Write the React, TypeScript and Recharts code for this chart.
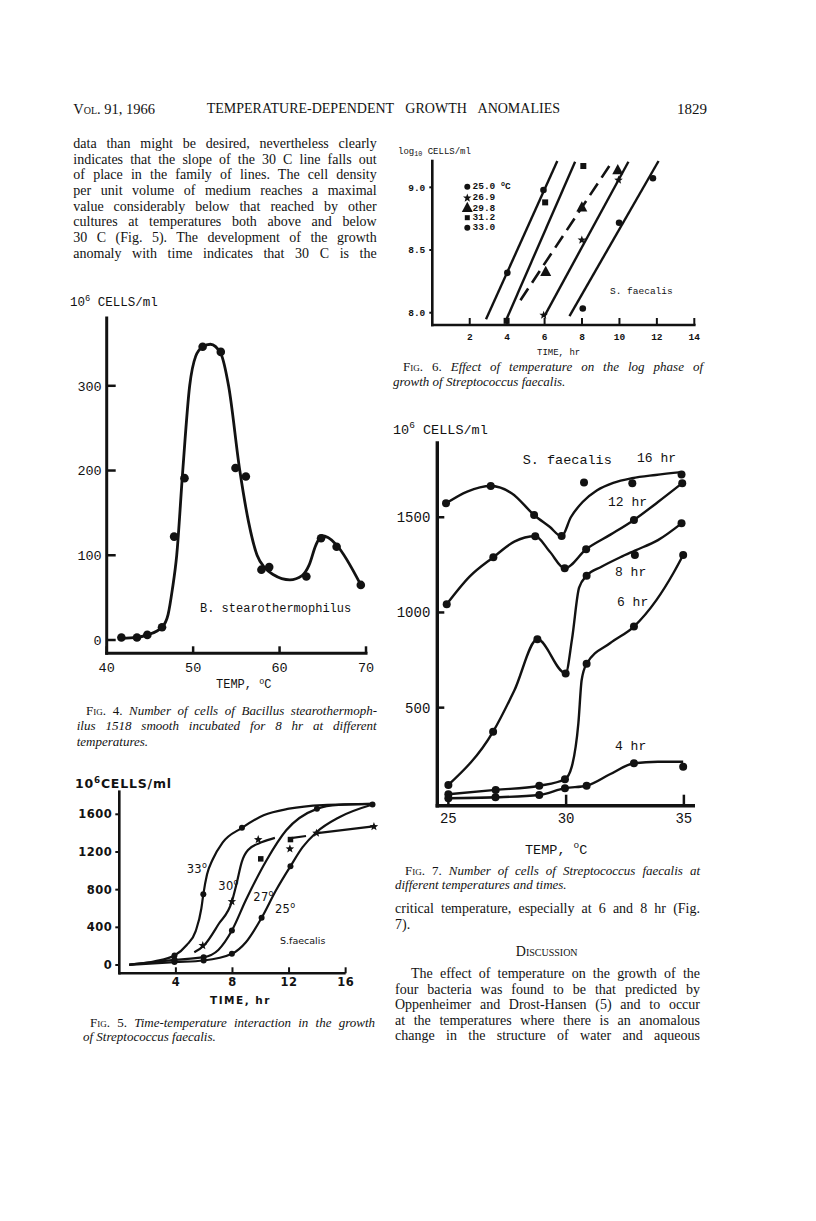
import React from 'react';
import { ComposedChart, Line, Scatter, XAxis, YAxis, ReferenceLine } from 'recharts';

const PAGE_W = 816;
const PAGE_H = 1221;
const INK = '#121212';
const SERIF = '"Liberation Serif", "Times New Roman", serif';
const MONO = '"Liberation Mono", "DejaVu Sans Mono", monospace';
const SANS = '"DejaVu Sans", "Liberation Sans", sans-serif';

// ---------------- Fig. 4 : B. stearothermophilus ----------------
const fig4PointTemp = [41.7, 43.5, 44.7, 46.4, 47.8, 49.0, 51.1, 53.2, 54.9, 56.1, 57.9, 58.8, 63.1, 64.8, 66.6, 69.4];
const fig4PointCells = [3, 3, 6, 15, 122, 191, 346, 340, 203, 193, 83, 86, 75, 120, 110, 65];
const fig4CurveTemp = [41.7, 43.5, 44.7, 46.4, 47.1, 47.6, 48.1, 48.8, 49.6, 50.3, 51.1, 52.0, 53.2, 54.1, 55.4, 56.4, 57.4, 58.3, 59.3, 61.2, 62.6, 63.4, 64.2, 64.9, 65.6, 66.6, 69.4];
const fig4CurveCells = [2, 3, 6, 15, 30, 60, 100, 200, 300, 335, 346, 349, 338, 300, 200, 140, 100, 85, 77, 71, 76, 88, 112, 123, 121, 112, 65];
const fig4XTicks = [40, 50, 60, 70];
const fig4YTicks = [0, 100, 200, 300];
const fig4XDomain = [40, 70];
const fig4YDomain = [-15.7, 380];

// ---------------- Fig. 5 : time-temperature ----------------
const fig5T33 = [0.7, 2.5, 3.9, 4.75, 5.4, 5.8, 5.94, 6.2, 6.6, 7.3, 8.67, 10.2, 12.0, 14.4, 17.9];
const fig5V33 = [5, 40, 101, 210, 360, 600, 750, 960, 1120, 1300, 1456, 1590, 1660, 1698, 1711];
const fig5T30 = [5.3, 6.0, 7.0, 7.96, 8.3, 8.65, 9.1, 10.1, 11.0];
const fig5V30 = [135, 210, 430, 675, 870, 1090, 1220, 1305, 1350];
const fig5T27 = [0.7, 3.9, 5.96, 7.0, 7.96, 8.95, 10.4, 11.8, 13.97, 15.5, 17.9];
const fig5V27 = [5, 55, 83, 160, 366, 690, 1110, 1430, 1658, 1700, 1711];
const fig5T25 = [0.7, 3.9, 5.96, 7.96, 8.95, 10.06, 11.07, 12.1, 12.96, 13.94, 15.55, 17.9];
const fig5V25 = [0, 31, 48, 119, 242, 501, 791, 1049, 1251, 1410, 1569, 1704];
const fig5PlateauT = [12.0, 13.2, 13.6, 14.0, 18.1];
const fig5PlateauV = [1345, 1370, null, 1400, 1475];
const fig5DotT = [3.9, 5.94, 8.67, 3.9, 5.96, 7.96, 13.97, 3.9, 5.96, 7.96, 10.06, 12.1, 17.9];
const fig5DotV = [101, 750, 1456, 55, 83, 366, 1658, 31, 48, 119, 501, 1049, 1704];
const fig5StarT = [5.9, 7.96, 9.82, 12.06, 13.94, 18.0];
const fig5StarV = [207, 674, 1332, 1233, 1400, 1470];
const fig5SquareT = [10.0, 12.1];
const fig5SquareV = [1127, 1332];
const fig5XTicks = [4, 8, 12, 16];
const fig5YTicks = [0, 400, 800, 1200, 1600];
const fig5XDomain = [0, 18.5];
const fig5YDomain = [-88, 1840];

// ---------------- Fig. 6 : log phase ----------------
const fig6Line33T = [2.87, 6.68];
const fig6Line33V = [7.947, 9.21];
const fig6Line31T = [3.94, 7.63];
const fig6Line31V = [7.94, 9.204];
const fig6Line29T = [4.71, 9.5];
const fig6Line29V = [8.1, 9.18];
const fig6Line26T = [5.97, 10.48];
const fig6Line26V = [7.967, 9.204];
const fig6Line25T = [7.33, 12.09];
const fig6Line25V = [7.973, 9.21];
const fig6Pts33T = [4.01, 5.94];
const fig6Pts33V = [8.318, 8.979];
const fig6Pts31T = [3.97, 6.03, 8.07];
const fig6Pts31V = [7.935, 8.88, 9.17];
const fig6Pts29T = [6.06, 7.99, 9.91];
const fig6Pts29V = [8.326, 8.84, 9.138];
const fig6Pts26T = [5.95, 7.99, 9.95];
const fig6Pts26V = [7.98, 8.58, 9.058];
const fig6Pts25T = [8.04, 9.98, 11.79];
const fig6Pts25V = [8.034, 8.718, 9.072];
const fig6XTicks = [2, 4, 6, 8, 10, 12, 14];
const fig6YTicks = [8.0, 8.5, 9.0];
const fig6XDomain = [0, 14];
const fig6YDomain = [7.902, 9.21];
const fig6LegendLabels = ['25.0', '26.9', '29.8', '31.2', '33.0'];

// ---------------- Fig. 7 : cells vs temperature ----------------
const fig7C16T = [24.9, 25.8, 26.8, 27.7, 28.64, 29.3, 29.81, 30.2, 30.7, 31.3, 32.0, 32.8, 33.8, 34.9];
const fig7C16V = [1573, 1635, 1664, 1625, 1512, 1450, 1400, 1500, 1580, 1640, 1680, 1705, 1722, 1737];
const fig7P16T = [24.9, 26.8, 28.64, 29.81, 30.76, 32.81, 34.9];
const fig7P16V = [1573, 1664, 1512, 1402, 1682, 1678, 1724];
const fig7C12T = [24.93, 25.9, 26.91, 27.8, 28.69, 29.3, 29.94, 30.85, 31.9, 32.88, 33.9, 34.93];
const fig7C12V = [1043, 1188, 1290, 1372, 1400, 1320, 1232, 1332, 1410, 1486, 1580, 1679];
const fig7P12T = [24.93, 26.91, 28.69, 29.94, 30.85, 32.88, 34.93];
const fig7P12V = [1043, 1290, 1400, 1232, 1332, 1486, 1679];
const fig7C8T = [25.0, 26.9, 27.8, 28.78, 29.98, 30.25, 30.55, 30.87, 31.5, 32.3, 32.92, 33.9, 34.9];
const fig7C8V = [94, 374, 590, 859, 680, 860, 1130, 1193, 1240, 1290, 1325, 1380, 1468];
const fig7P8T = [25.0, 26.9, 28.78, 29.98, 30.87, 32.92, 34.9];
const fig7P8V = [94, 374, 859, 680, 1193, 1302, 1468];
const fig7C6T = [25.0, 27.01, 28.86, 29.95, 30.24, 30.52, 30.66, 30.87, 31.86, 32.88, 33.84, 34.55, 34.97];
const fig7C6V = [45, 68, 90, 124, 190, 418, 645, 730, 838, 926, 1066, 1206, 1302];
const fig7P6T = [25.0, 27.01, 28.86, 29.95, 30.87, 32.88, 34.97];
const fig7P6V = [45, 68, 90, 124, 730, 926, 1302];
const fig7C4T = [25.0, 27.0, 28.86, 29.95, 30.87, 31.86, 32.88, 33.9, 34.97];
const fig7C4V = [24, 29, 41, 77, 90, 150, 208, 216, 216];
const fig7P4T = [25.0, 27.0, 28.86, 29.95, 30.87, 32.88, 34.97];
const fig7P4V = [24, 29, 41, 77, 90, 208, 190];
const fig7XTicks = [25, 30, 35];
const fig7YTicks = [500, 1000, 1500];
const fig7XDomain = [24.53, 35.4];
const fig7YDomain = [-15, 1890];

// ---------------- helpers ----------------
const zip = (xs: number[], ys: (number | null)[]) => xs.map((x, i) => ({ x, y: ys[i] }));

type Box = { x0: number; x1: number; y0: number; y1: number };
const marginFor = (b: Box) => ({ left: b.x0 - 1, right: PAGE_W - b.x1, top: b.y0, bottom: PAGE_H - b.y1 - 1 });

type TickSpec = {
  len: number; inward: boolean; gap: number; size: number; font: string;
  weight?: number | string; ls?: number; sw: number; fmt?: (v: number) => string;
};

const yTick = (s: TickSpec) => (p: any) => {
  const { x, y, payload } = p;
  const v = payload.value as number;
  const x2 = s.inward ? x + s.len : x - s.len;
  const tx = x - (s.inward ? 0 : s.len) - s.gap;
  return (
    <g>
      <line x1={x} y1={y} x2={x2} y2={y} stroke={INK} strokeWidth={s.sw} />
      <text x={tx} y={y + s.size * 0.36} textAnchor="end" fontFamily={s.font} fontSize={s.size}
        fontWeight={s.weight} letterSpacing={s.ls} fill={INK}>{s.fmt ? s.fmt(v) : v}</text>
    </g>
  );
};

const xTick = (s: TickSpec) => (p: any) => {
  const { x, y, payload } = p;
  const v = payload.value as number;
  const y2 = s.inward ? y - s.len : y + s.len;
  return (
    <g>
      <line x1={x} y1={y} x2={x} y2={y2} stroke={INK} strokeWidth={s.sw} />
      <text x={x} y={y + s.gap + s.size * 0.36} textAnchor="middle" fontFamily={s.font} fontSize={s.size}
        fontWeight={s.weight} letterSpacing={s.ls} fill={INK}>{s.fmt ? s.fmt(v) : v}</text>
    </g>
  );
};

const dotShape = (r: number) => (p: any) => <circle cx={p.cx} cy={p.cy} r={r} fill={INK} />;
const squareShape = (s: number) => (p: any) => (
  <rect x={p.cx - s / 2} y={p.cy - s / 2} width={s} height={s} fill={INK} />
);
const triPoints = (cx: number, cy: number, s: number) =>
  `${cx},${cy - s * 0.55} ${cx - s / 2},${cy + s * 0.38} ${cx + s / 2},${cy + s * 0.38}`;
const triShape = (s: number) => (p: any) => <polygon points={triPoints(p.cx, p.cy, s)} fill={INK} />;
const starPoints = (cx: number, cy: number, R: number) => {
  const pts: string[] = [];
  for (let i = 0; i < 10; i++) {
    const rr = i % 2 === 0 ? R : R * 0.42;
    const a = -Math.PI / 2 + (i * Math.PI) / 5;
    pts.push(`${cx + rr * Math.cos(a)},${cy + rr * Math.sin(a)}`);
  }
  return pts.join(' ');
};
const starShape = (R: number) => (p: any) => <polygon points={starPoints(p.cx, p.cy, R)} fill={INK} />;

const layer: React.CSSProperties = { position: 'absolute', left: 0, top: 0, width: PAGE_W, height: PAGE_H };

const lineCommon = { dot: false, activeDot: false, isAnimationActive: false, stroke: INK } as const;

// ---------------- text helper ----------------
type TProps = {
  x: number; cy: number; w?: number; size: number; font?: string; justify?: boolean;
  italic?: boolean; weight?: number | string; ls?: number; center?: boolean; k?: number;
  sc?: boolean; children: React.ReactNode;
};
function T({ x, cy, w, size, font = SERIF, justify, italic, weight, ls, center, k = 0.64, sc, children }: TProps) {
  const st: React.CSSProperties = {
    position: 'absolute', top: cy - size * k, fontSize: size, lineHeight: `${size * 1.2}px`,
    fontFamily: font, whiteSpace: 'nowrap', color: INK, fontStyle: italic ? 'italic' : 'normal',
    fontWeight: weight ?? 'normal', letterSpacing: ls, fontVariant: sc ? 'small-caps' : 'normal',
  };
  if (justify) {
    st.left = x; st.width = w; st.textAlign = 'justify'; st.textAlignLast = 'justify';
  } else if (center) {
    st.left = x - 200; st.width = 400; st.textAlign = 'center';
  } else {
    st.left = x;
  }
  return <div style={st}>{children}</div>;
}
const Sup = ({ children }: { children: React.ReactNode }) => (
  <span style={{ fontSize: '0.7em', position: 'relative', top: '-0.55em' }}>{children}</span>
);
const Sub = ({ children }: { children: React.ReactNode }) => (
  <span style={{ fontSize: '0.75em', position: 'relative', top: '0.35em' }}>{children}</span>
);
const Fig = ({ n }: { n: number }) => (
  <span style={{ fontStyle: 'normal', fontVariant: 'small-caps' }}>Fig. {n}. </span>
);

// ---------------- charts ----------------
function Fig4() {
  const box: Box = { x0: 106.7, x1: 366, y0: 318, y1: 653.3 };
  const yt: TickSpec = { len: 9, inward: true, gap: 5, size: 13.5, font: MONO, sw: 2.5 };
  const xt: TickSpec = { len: 7, inward: true, gap: 13.4, size: 13.5, font: MONO, sw: 2.5 };
  return (
    <div style={layer}>
      <ComposedChart width={PAGE_W} height={PAGE_H} margin={marginFor(box)}>
        <XAxis type="number" dataKey="x" domain={fig4XDomain} ticks={fig4XTicks} interval={0} height={1}
          tickSize={0} tickMargin={0} tickLine={false} tick={xTick(xt)}
          axisLine={{ stroke: INK, strokeWidth: 3, strokeLinecap: 'square' }} />
        <YAxis type="number" dataKey="y" domain={fig4YDomain} ticks={fig4YTicks} interval={0} width={1}
          tickSize={0} tickMargin={0} tickLine={false} tick={yTick(yt)}
          axisLine={{ stroke: INK, strokeWidth: 3, strokeLinecap: 'square' }} />
        <Line data={zip(fig4CurveTemp, fig4CurveCells)} dataKey="y" type="monotone" strokeWidth={2.8} {...lineCommon} />
        <Scatter data={zip(fig4PointTemp, fig4PointCells)} shape={dotShape(4.3)} isAnimationActive={false} />
      </ComposedChart>
    </div>
  );
}

function Fig5() {
  const box: Box = { x0: 119.3, x1: 381, y0: 791.7, y1: 973.3 };
  const yt: TickSpec = { len: 4, inward: false, gap: 3, size: 11.5, font: SANS, weight: 'bold', ls: 0.5, sw: 2 };
  const xt: TickSpec = { len: 6, inward: true, gap: 9, size: 11.5, font: SANS, weight: 'bold', ls: 0.5, sw: 2 };
  return (
    <div style={layer}>
      <ComposedChart width={PAGE_W} height={PAGE_H} margin={marginFor(box)}>
        <XAxis type="number" dataKey="x" domain={fig5XDomain} ticks={fig5XTicks} interval={0} height={1}
          tickSize={0} tickMargin={0} tickLine={false} tick={xTick(xt)} axisLine={false} />
        <YAxis type="number" dataKey="y" domain={fig5YDomain} ticks={fig5YTicks} interval={0} width={1}
          tickSize={0} tickMargin={0} tickLine={false} tick={yTick(yt)}
          axisLine={{ stroke: INK, strokeWidth: 2.6, strokeLinecap: 'square' }} />
        <ReferenceLine segment={[{ x: fig5XDomain[0], y: fig5YDomain[0] }, { x: fig5XTicks[fig5XTicks.length - 1], y: fig5YDomain[0] }]}
          stroke={INK} strokeWidth={2.6} ifOverflow="visible" />
        <Line data={zip(fig5T33, fig5V33)} dataKey="y" type="monotone" strokeWidth={2.2} {...lineCommon} />
        <Line data={zip(fig5T30, fig5V30)} dataKey="y" type="monotone" strokeWidth={2.2} {...lineCommon} />
        <Line data={zip(fig5T27, fig5V27)} dataKey="y" type="monotone" strokeWidth={2.2} {...lineCommon} />
        <Line data={zip(fig5T25, fig5V25)} dataKey="y" type="monotone" strokeWidth={2.2} {...lineCommon} />
        <Line data={zip(fig5PlateauT, fig5PlateauV)} dataKey="y" type="linear" strokeWidth={2.2} connectNulls={false} {...lineCommon} />
        <Scatter data={zip(fig5DotT, fig5DotV)} shape={dotShape(3)} isAnimationActive={false} />
        <Scatter data={zip(fig5StarT, fig5StarV)} shape={starShape(4.5)} isAnimationActive={false} />
        <Scatter data={zip(fig5SquareT, fig5SquareV)} shape={squareShape(5.5)} isAnimationActive={false} />
      </ComposedChart>
    </div>
  );
}

function Fig6() {
  const box: Box = { x0: 432.3, x1: 694.3, y0: 161, y1: 325 };
  const yt: TickSpec = { len: 3, inward: false, gap: 4, size: 9.5, font: MONO, weight: 'bold', sw: 2, fmt: (v) => v.toFixed(1) };
  const xt: TickSpec = { len: 7, inward: true, gap: 11.7, size: 9.5, font: MONO, weight: 'bold', sw: 2 };
  return (
    <div style={layer}>
      <ComposedChart width={PAGE_W} height={PAGE_H} margin={marginFor(box)}>
        <XAxis type="number" dataKey="x" domain={fig6XDomain} ticks={fig6XTicks} interval={0} height={1}
          tickSize={0} tickMargin={0} tickLine={false} tick={xTick(xt)}
          axisLine={{ stroke: INK, strokeWidth: 2.6, strokeLinecap: 'square' }} />
        <YAxis type="number" dataKey="y" domain={fig6YDomain} ticks={fig6YTicks} interval={0} width={1}
          tickSize={0} tickMargin={0} tickLine={false} tick={yTick(yt)}
          axisLine={{ stroke: INK, strokeWidth: 2.6, strokeLinecap: 'square' }} />
        <Line data={zip(fig6Line33T, fig6Line33V)} dataKey="y" type="linear" strokeWidth={2.4} {...lineCommon} />
        <Line data={zip(fig6Line31T, fig6Line31V)} dataKey="y" type="linear" strokeWidth={2.4} {...lineCommon} />
        <Line data={zip(fig6Line29T, fig6Line29V)} dataKey="y" type="linear" strokeWidth={2.6} strokeDasharray="14 7" {...lineCommon} />
        <Line data={zip(fig6Line26T, fig6Line26V)} dataKey="y" type="linear" strokeWidth={2.4} {...lineCommon} />
        <Line data={zip(fig6Line25T, fig6Line25V)} dataKey="y" type="linear" strokeWidth={2.4} {...lineCommon} />
        <Scatter data={zip(fig6Pts33T, fig6Pts33V)} shape={dotShape(3.3)} isAnimationActive={false} />
        <Scatter data={zip(fig6Pts31T, fig6Pts31V)} shape={squareShape(6)} isAnimationActive={false} />
        <Scatter data={zip(fig6Pts29T, fig6Pts29V)} shape={triShape(11)} isAnimationActive={false} />
        <Scatter data={zip(fig6Pts26T, fig6Pts26V)} shape={starShape(4.5)} isAnimationActive={false} />
        <Scatter data={zip(fig6Pts25T, fig6Pts25V)} shape={dotShape(3.3)} isAnimationActive={false} />
      </ComposedChart>
    </div>
  );
}

function Fig7() {
  const box: Box = { x0: 437.3, x1: 693.3, y0: 443, y1: 805.7 };
  const yt: TickSpec = { len: 7, inward: true, gap: 7, size: 14, font: MONO, sw: 2.5 };
  const xt: TickSpec = { len: 11, inward: true, gap: 12.3, size: 14, font: MONO, sw: 2.5 };
  const series: [number[], number[], number[], number[]][] = [
    [fig7C16T, fig7C16V, fig7P16T, fig7P16V],
    [fig7C12T, fig7C12V, fig7P12T, fig7P12V],
    [fig7C8T, fig7C8V, fig7P8T, fig7P8V],
    [fig7C6T, fig7C6V, fig7P6T, fig7P6V],
    [fig7C4T, fig7C4V, fig7P4T, fig7P4V],
  ];
  return (
    <div style={layer}>
      <ComposedChart width={PAGE_W} height={PAGE_H} margin={marginFor(box)}>
        <XAxis type="number" dataKey="x" domain={fig7XDomain} ticks={fig7XTicks} interval={0} height={1}
          tickSize={0} tickMargin={0} tickLine={false} tick={xTick(xt)}
          axisLine={{ stroke: INK, strokeWidth: 3.4, strokeLinecap: 'square' }} />
        <YAxis type="number" dataKey="y" domain={fig7YDomain} ticks={fig7YTicks} interval={0} width={1}
          tickSize={0} tickMargin={0} tickLine={false} tick={yTick(yt)}
          axisLine={{ stroke: INK, strokeWidth: 3.4, strokeLinecap: 'square' }} />
        {series.map((s, i) => (
          <Line key={`l${i}`} data={zip(s[0], s[1])} dataKey="y" type="monotone" strokeWidth={2.4} {...lineCommon} />
        ))}
        {series.map((s, i) => (
          <Scatter key={`p${i}`} data={zip(s[2], s[3])} shape={dotShape(4)} isAnimationActive={false} />
        ))}
      </ComposedChart>
    </div>
  );
}

function Fig6Legend() {
  const rows = [186.7, 198.0, 208.3, 217.7, 227.7];
  const mx = 467.3;
  const shapes = [
    <circle key="a" cx={mx} cy={rows[0]} r={3} fill={INK} />,
    <polygon key="b" points={starPoints(mx, rows[1], 4.5)} fill={INK} />,
    <polygon key="c" points={triPoints(mx, rows[2] - 0.5, 11)} fill={INK} />,
    <rect key="d" x={mx - 2.5} y={rows[3] - 2.5} width={5} height={5} fill={INK} />,
    <circle key="e" cx={mx} cy={rows[4]} r={3} fill={INK} />,
  ];
  return (
    <>
      <svg width={PAGE_W} height={PAGE_H} style={{ ...layer, pointerEvents: 'none' }}>{shapes}</svg>
      {fig6LegendLabels.map((lab, i) => (
        <T key={lab} x={472.5} cy={rows[i]} size={9.5} font={MONO} weight="bold" k={0.58}>
          {lab}{i === 0 ? <> <Sup>o</Sup>C</> : null}
        </T>
      ))}
    </>
  );
}

const leftPara = [
  'data than might be desired, nevertheless clearly',
  'indicates that the slope of the 30 C line falls out',
  'of place in the family of lines. The cell density',
  'per unit volume of medium reaches a maximal',
  'value considerably below that reached by other',
  'cultures at temperatures both above and below',
  '30 C (Fig. 5). The development of the growth',
  'anomaly with time indicates that 30 C is the',
];
const rightPara = [
  'four bacteria was found to be that predicted by',
  'Oppenheimer and Drost-Hansen (5) and to occur',
  'at the temperatures where there is an anomalous',
  'change in the structure of water and aqueous',
];

function PageText() {
  return (
    <>
      {/* running head */}
      <T x={73.3} cy={110} size={14.5} sc>Vol. 91, 1966</T>
      <T x={206.7} cy={110} w={353.3} size={14} justify>TEMPERATURE-DEPENDENT GROWTH ANOMALIES</T>
      <T x={677} cy={110} size={15}>1829</T>

      {/* left column paragraph */}
      {leftPara.map((l, i) => (
        <T key={i} x={73.3} cy={145 + 15.65 * i} w={303.4} size={14} justify>{l}</T>
      ))}

      {/* Fig 4 labels */}
      <T x={70} cy={303} size={12.5} font={MONO} k={0.55}>10<Sup>6</Sup> CELLS/ml</T>
      <T x={200} cy={609} size={12} font={MONO} k={0.55}>B. stearothermophilus</T>
      <T x={216} cy={685} size={12} font={MONO} k={0.55}>TEMP, <Sup>o</Sup>C</T>

      {/* Fig 4 caption */}
      <T x={86} cy={711} w={291} size={13} italic justify><Fig n={4} />Number of cells of Bacillus stearothermoph-</T>
      <T x={76.7} cy={726.6} w={300} size={13} italic justify>ilus 1518 smooth incubated for 8 hr at different</T>
      <T x={76.7} cy={742} size={13} italic>temperatures.</T>

      {/* Fig 5 labels */}
      <T x={75} cy={783} size={12.5} font={SANS} weight="bold" ls={0.8} k={0.55}>10<Sup>6</Sup>CELLS/ml</T>
      <T x={186.7} cy={869} size={11.5} font={SANS} ls={0.3} k={0.55}>33<Sup>o</Sup></T>
      <T x={218.3} cy={886} size={11.5} font={SANS} ls={0.3} k={0.55}>30<Sup>o</Sup></T>
      <T x={253.3} cy={897} size={11.5} font={SANS} ls={0.3} k={0.55}>27<Sup>o</Sup></T>
      <T x={275} cy={909} size={11.5} font={SANS} ls={0.3} k={0.55}>25<Sup>o</Sup></T>
      <T x={280} cy={940} size={9.5} font={SANS} k={0.55}>S.faecalis</T>
      <T x={210} cy={1000} size={10.5} font={SANS} weight="bold" ls={1.5} k={0.55}>TIME, hr</T>

      {/* Fig 5 caption */}
      <T x={90} cy={1023} w={285} size={13} italic justify><Fig n={5} />Time-temperature interaction in the growth</T>
      <T x={83} cy={1037} size={13} italic>of Streptococcus faecalis.</T>

      {/* Fig 6 labels */}
      <T x={398} cy={152} size={9} font={MONO} k={0.55}>log<Sub>10</Sub> CELLS/ml</T>
      <T x={610} cy={291} size={9.5} font={MONO} k={0.55}>S. faecalis</T>
      <T x={537} cy={352.7} size={9} font={MONO} k={0.55}>TIME, hr</T>

      {/* Fig 6 caption */}
      <T x={403} cy={367} w={300} size={13} italic justify><Fig n={6} />Effect of temperature on the log phase of</T>
      <T x={393} cy={382} size={13} italic>growth of Streptococcus faecalis.</T>

      {/* Fig 7 labels */}
      <T x={393} cy={430} size={13.5} font={MONO} k={0.55}>10<Sup>6</Sup> CELLS/ml</T>
      <T x={522.7} cy={460} size={13.5} font={MONO} k={0.55}>S. faecalis</T>
      <T x={637} cy={458} size={13} font={MONO} k={0.55}>16 hr</T>
      <T x={608} cy={502} size={13} font={MONO} k={0.55}>12 hr</T>
      <T x={615} cy={572} size={13} font={MONO} k={0.55}>8 hr</T>
      <T x={617} cy={602} size={13} font={MONO} k={0.55}>6 hr</T>
      <T x={615} cy={746} size={13} font={MONO} k={0.55}>4 hr</T>
      <T x={525} cy={850} size={13.5} font={MONO} k={0.55}>TEMP, <Sup>o</Sup>C</T>

      {/* Fig 7 caption */}
      <T x={405} cy={871} w={295} size={13} italic justify><Fig n={7} />Number of cells of Streptococcus faecalis at</T>
      <T x={395} cy={885} size={13} italic>different temperatures and times.</T>

      {/* right column text */}
      <T x={395} cy={910} w={305} size={14} justify>critical temperature, especially at 6 and 8 hr (Fig.</T>
      <T x={395} cy={925.7} size={14}>7).</T>
      <T x={546.7} cy={953.3} size={14} center sc>Discussion</T>
      <T x={411} cy={975.3} w={289} size={14} justify>The effect of temperature on the growth of the</T>
      {rightPara.map((l, i) => (
        <T key={i} x={395} cy={991 + 15.4 * i} w={305} size={14} justify>{l}</T>
      ))}
    </>
  );
}

export default function App() {
  return (
    <div style={{ position: 'absolute', left: 0, top: 0, width: PAGE_W, height: PAGE_H, background: '#fff', overflow: 'hidden' }}>
      <PageText />
      <Fig6Legend />
      <Fig4 />
      <Fig5 />
      <Fig6 />
      <Fig7 />
    </div>
  );
}
